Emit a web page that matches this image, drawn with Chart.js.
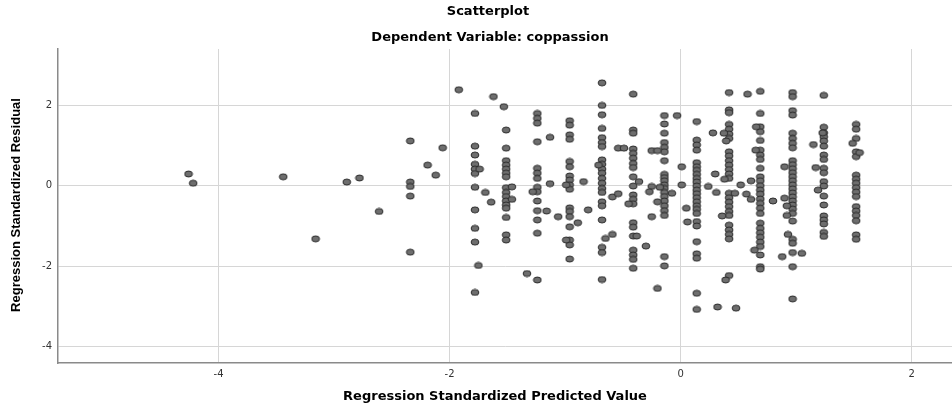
<!DOCTYPE html>
<html>
<head>
<meta charset="utf-8">
<script src="https://cdn.jsdelivr.net/npm/chart.js@4.4.0/dist/chart.umd.min.js"></script>
<style>
  html, body { margin: 0; padding: 0; background: #fff; }
  #wrap { width: 952px; height: 409px; }
</style>
</head>
<body>
<div id="wrap"><canvas id="grafico" width="952" height="409"></canvas></div>
<script>
// ===== Dados =====
// valores previstos (colunas verticais de pontos)
const predictedCols = [-2.34, -1.78, -1.51, -1.24, -0.96, -0.68, -0.41, -0.14, 0.14, 0.42, 0.69, 0.97, 1.24, 1.52];

// resíduos em cada coluna, na mesma ordem de predictedCols
const residualsByCol = [
  [1.11, 0.09, -0.02, -0.26, -1.65],
  [1.79, 0.98, 0.76, 0.53, 0.41, 0.30, -0.04, -0.60, -1.06, -1.40, -2.65],
  [1.38, 0.93, 0.62, 0.51, 0.41, 0.31, 0.22, -0.05, -0.17, -0.27, -0.38, -0.48, -0.56, -0.79, -1.22, -1.35],
  [1.79, 1.67, 1.55, 1.09, 0.43, 0.31, 0.18, -0.04, -0.15, -0.38, -0.62, -0.85, -1.18, -2.34],
  [1.61, 1.50, 1.26, 1.15, 0.60, 0.47, 0.24, 0.14, 0.02, -0.09, -0.55, -0.64, -0.77, -1.02, -1.35, -1.47, -1.82],
  [2.55, 1.99, 1.76, 1.42, 1.19, 1.07, 0.97, 0.64, 0.53, 0.41, 0.31, 0.18, 0.06, -0.07, -0.17, -0.40, -0.50, -0.85, -1.53, -1.66, -2.33],
  [1.38, 1.30, 0.91, 0.80, 0.68, 0.55, 0.45, 0.22, -0.01, -0.23, -0.34, -0.45, -0.92, -1.03, -1.25, -1.60, -1.72, -1.83, -2.05],
  [1.74, 1.53, 1.30, 1.07, 0.95, 0.84, 0.62, 0.28, 0.20, 0.12, 0.02, -0.07, -0.17, -0.27, -0.38, -0.50, -0.62, -0.74, -1.76, -1.99],
  [1.59, 1.13, 1.01, 0.88, 0.57, 0.47, 0.38, 0.28, 0.18, 0.09, -0.01, -0.11, -0.20, -0.30, -0.40, -0.50, -0.59, -0.69, -0.89, -1.00, -1.39, -1.69, -1.80, -2.67, -3.07],
  [2.31, 1.88, 1.81, 1.52, 1.40, 1.28, 1.17, 0.84, 0.74, 0.62, 0.51, 0.40, 0.29, 0.18, -0.19, -0.30, -0.41, -0.52, -0.64, -0.74, -0.98, -1.10, -1.21, -1.32, -2.23],
  [2.34, 1.79, 1.46, 1.34, 1.12, 0.88, 0.76, 0.65, 0.43, 0.22, 0.12, 0.00, -0.11, -0.21, -0.33, -0.44, -0.56, -0.69, -0.93, -1.06, -1.17, -1.28, -1.40, -1.51, -1.72, -2.01, -2.07],
  [2.31, 2.21, 1.86, 1.75, 1.30, 1.17, 1.05, 0.94, 0.62, 0.52, 0.42, 0.32, 0.22, 0.12, 0.02, -0.08, -0.18, -0.28, -0.38, -0.48, -0.58, -0.69, -0.88, -1.33, -1.43, -1.66, -2.01, -2.81],
  [2.24, 1.45, 1.31, 1.21, 1.11, 0.98, 0.76, 0.65, 0.43, 0.32, 0.10, -0.01, -0.26, -0.48, -0.75, -0.85, -0.95, -1.16, -1.26],
  [1.52, 1.40, 1.17, 0.84, 0.72, 0.26, 0.16, 0.06, -0.05, -0.16, -0.27, -0.52, -0.63, -0.74, -0.87, -1.22, -1.33],
];

// pontos soltos, fora das colunas
const extraX = [-4.26, -4.22, -3.44, -3.16, -2.89, -2.78, -2.61, -2.19, -2.12, -2.06, -1.92, -1.62, -1.53, -1.74, -1.69,
  -1.64, -1.75, -1.46, -1.46, -1.13, -1.13, -1.28, -1.16, -1.33, -1.06, -0.84, -0.99, -0.99, -0.89, -0.80,
  -0.71, -0.59, -0.54, -0.65, -0.59, -0.41, -0.54, -0.49, -0.36, -0.45, -0.38, -0.30, -0.03, -0.25, -0.20,
  0.01, 0.01, -0.25, -0.27, -0.18, -0.075, -0.20, -0.25, -0.20, 0.05, 0.06, 0.24, 0.30, 0.31, 0.28,
  0.32, 0.48, 0.375, 0.395, 0.38, 0.36, 0.39, 0.47, 0.52, 0.57, 0.61, 0.61, 0.58, 0.655, 0.65,
  0.80, 0.64, 0.90, 0.90, 0.92, 0.92, 0.93, 0.88, 1.05, 1.15, 1.23, 1.17, 1.19, 1.49, 1.55];
const extraY = [0.29, 0.06, 0.22, -1.32, 0.09, 0.19, -0.64, 0.51, 0.26, 0.94, 2.38, 2.21, 1.96, 0.41, -0.17,
  -0.41, -1.98, -0.03, -0.34, 1.20, 0.05, -0.15, -0.63, -2.18, -0.77, 0.10, 0.02, -1.35, -0.92, -0.60,
  0.51, -0.28, -0.20, -1.31, -1.21, 2.27, 0.93, 0.93, 0.10, -0.45, -1.25, -1.50, 1.74, 0.87, 0.87,
  0.47, 0.02, -0.02, -0.15, -0.04, -0.19, -0.40, -0.77, -2.55, -0.56, -0.90, -0.02, 0.29, -0.17, 1.31,
  -3.01, -3.04, 1.30, 1.11, 0.16, -0.75, -2.34, -0.19, 0.02, -0.21, 0.12, -0.34, 2.27, 1.46, 0.88,
  -0.38, -1.60, 0.47, -0.31, -0.50, -0.74, -1.21, -1.76, -1.68, 1.02, 1.31, 0.45, -0.11, 1.05, 0.82];

// marcas dos eixos
const xTicks = [-4, -2, 0, 2];
const yTicks = [-4, -2, 0, 2];

// ===== Monta os pontos =====
const pontos = [];
predictedCols.forEach((x, i) => {
  residualsByCol[i].forEach((y) => pontos.push({ x, y }));
});
extraX.forEach((x, i) => pontos.push({ x, y: extraY[i] }));

// ===== Marcador elíptico no estilo do SPSS =====
const marcador = document.createElement('canvas');
marcador.width = 10;
marcador.height = 8;
{
  const c = marcador.getContext('2d');
  c.beginPath();
  c.ellipse(5, 4, 3.9, 3.0, 0, 0, Math.PI * 2);
  c.fillStyle = '#6e6e6e';
  c.fill();
  c.lineWidth = 1;
  c.strokeStyle = '#2b2b2b';
  c.stroke();
}

// ===== Textos: títulos e rótulos dos eixos =====
const textosPlugin = {
  id: 'textos',
  afterDraw(chart) {
    const { ctx } = chart;
    ctx.save();
    ctx.fillStyle = '#000';
    ctx.textAlign = 'center';
    ctx.textBaseline = 'middle';

    ctx.font = 'bold 13px "DejaVu Sans", sans-serif';
    ctx.fillText('Scatterplot', 488, 12);
    ctx.fillText('Dependent Variable: coppassion', 490, 38);
    ctx.fillText('Regression Standardized Predicted Value', 495, 397);

    ctx.font = 'bold 13px "Liberation Sans", Arial, sans-serif';
    ctx.translate(16, 205);
    ctx.rotate(-Math.PI / 2);
    ctx.fillText('Regression Standardized Residual', 0, 0);
    ctx.restore();
  },
};

const escalaComum = {
  type: 'linear',
  grid: { color: '#d6d6d6', lineWidth: 1, drawTicks: false },
  border: { display: true, color: '#8a8a8a', width: 1.5 },
};

new Chart(document.getElementById('grafico'), {
  type: 'scatter',
  data: {
    datasets: [{
      data: pontos,
      pointStyle: marcador,
      pointRadius: 4,
      pointHoverRadius: 4,
    }],
  },
  options: {
    responsive: false,
    animation: false,
    events: [],
    layout: { autoPadding: false, padding: { top: 49, left: 0, right: 0, bottom: 0 } },
    plugins: { legend: { display: false }, tooltip: { enabled: false } },
    scales: {
      x: {
        ...escalaComum,
        min: -5.39,
        max: 2.35,
        afterBuildTicks: (s) => { s.ticks = xTicks.map((v) => ({ value: v })); },
        afterFit: (s) => { s.height = 46; s.paddingLeft = 0; s.paddingRight = 0; },
        ticks: { font: { family: 'DejaVu Sans', size: 10 }, color: '#333', padding: 5 },
      },
      y: {
        ...escalaComum,
        min: -4.4,
        max: 3.39,
        afterBuildTicks: (s) => { s.ticks = yTicks.map((v) => ({ value: v })); },
        afterFit: (s) => { s.width = 58; s.paddingTop = 0; s.paddingBottom = 0; },
        ticks: { font: { family: 'DejaVu Sans', size: 10 }, color: '#333', padding: 6 },
      },
    },
  },
  plugins: [textosPlugin],
});
</script>
</body>
</html>
